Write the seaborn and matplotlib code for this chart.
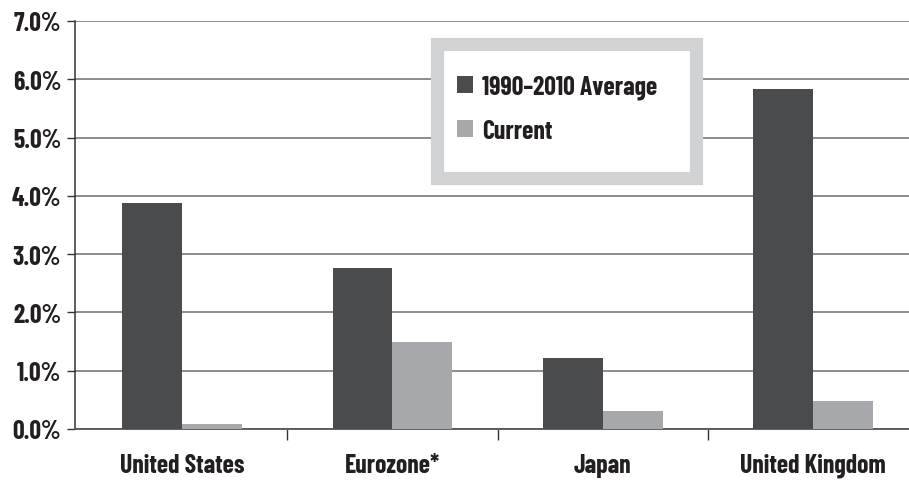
import pandas as pd
import seaborn as sns
import matplotlib.pyplot as plt
from matplotlib.patches import Rectangle
from matplotlib.ticker import FixedLocator, PercentFormatter

countries = ['United States', 'Eurozone*', 'Japan', 'United Kingdom']
avg_1990_2010 = [3.88, 2.76, 1.22, 5.83]
current = [0.09, 1.49, 0.31, 0.48]
series = ['1990\u20132010 Average', 'Current']

df = pd.DataFrame({
    'country': countries * 2,
    'value': avg_1990_2010 + current,
    'series': [series[0]] * 4 + [series[1]] * 4,
})

sns.set_style('white')
plt.rcParams['font.family'] = ['Barlow Condensed', 'DejaVu Sans']
plt.rcParams['font.weight'] = 'bold'

fig = plt.figure(figsize=(9.09, 4.81), dpi=100)
# right edge runs a little past the figure, as in the original
ax = fig.add_axes([75 / 909, 51 / 481, 843 / 909, 408 / 481])

sns.barplot(data=df, x='country', y='value', hue='series',
            palette=['#4a4b4d', '#a7a8ab'], width=0.57, saturation=1,
            edgecolor='none', ax=ax, zorder=3, legend=True)

ax.set_ylim(0, 7)
ax.set_xlim(-0.51, 3.5)
ax.yaxis.set_major_locator(FixedLocator(range(8)))
ax.yaxis.set_major_formatter(PercentFormatter(decimals=1))
ax.grid(axis='y', color='#6d6e71', linewidth=1.1, zorder=0)
ax.set_axisbelow(True)

ax.set_xlabel('')
ax.set_ylabel('')
for s in ['top', 'right']:
    ax.spines[s].set_visible(False)
ax.spines['left'].set_color('#333333')
ax.spines['left'].set_linewidth(1.1)
ax.spines['bottom'].set_color('#555555')
ax.spines['bottom'].set_linewidth(1.3)

ax.tick_params(axis='y', direction='out', length=6, width=1, color='#333333',
               labelsize=18.5, labelcolor='#231f20', pad=4, left=True)
ax.tick_params(axis='x', which='major', length=0, labelsize=18.5,
               labelcolor='#231f20', pad=17)
ax.xaxis.set_minor_locator(FixedLocator([0.5, 1.5, 2.5]))
ax.tick_params(axis='x', which='minor', direction='out', length=8, width=1,
               color='#333333', bottom=True)

# legend: gray-framed white box with the entries inside
box = Rectangle((0.4299, 0.6164), 0.3072, 0.3284, transform=ax.transAxes,
                facecolor='white', edgecolor='#d1d2d4', linewidth=9.5,
                zorder=4, clip_on=False)
ax.add_patch(box)
handles, labels = ax.get_legend_handles_labels()
leg = ax.legend(handles, labels, loc='upper left', bbox_to_anchor=(0.4535, 0.868),
                frameon=False, fontsize=18.5, handlelength=0.62,
                handleheight=0.62, handletextpad=0.35, labelspacing=0.75,
                borderpad=0, borderaxespad=0, title=None)
leg.set_zorder(5)
for t in leg.get_texts():
    t.set_color('#231f20')
    t.set_fontweight('bold')

fig.savefig('out.png', dpi=100)
